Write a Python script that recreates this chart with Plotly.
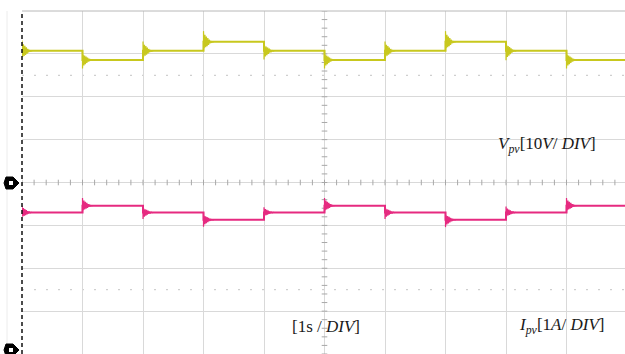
import plotly.graph_objects as go

# ---------------- data ----------------
switch_time_s = [0, 1, 2, 3, 4, 5, 6, 7, 8, 9]
v_pv_level_V = [30.7, 28.6, 30.7, 32.8, 30.7, 28.6, 30.7, 32.8, 30.7, 28.6]
i_pv_level_A = [3.21, 3.37, 3.21, 3.04, 3.21, 3.37, 3.21, 3.04, 3.21, 3.37]
v_ring_amp_V = [2.4, 2.0, 2.2, 2.5, 2.0, 2.0, 2.2, 2.5, 2.2, 2.0]
i_ring_amp_A = [0.16, 0.18, 0.15, 0.16, 0.12, 0.18, 0.15, 0.17, 0.14, 0.18]
ring_dt_s = [0.0, 0.012, 0.024, 0.036, 0.048, 0.06, 0.072, 0.084, 0.096,
             0.108, 0.12, 0.135, 0.15, 0.17]
ring_shape = [1.0, -0.6, 0.65, -0.5, 0.5, -0.4, 0.35, -0.28, 0.2,
              -0.14, 0.08, -0.04, 0.02, 0.0]
t_end_s = 10.0

V_PER_DIV, V_GND_DIV = 10.0, 0.0
A_PER_DIV, I_GND_DIV = 1.0, -3.91


def build(levels, amps, per_div, gnd):
    sx, sy, rx, ry = [], [], [], []
    prev = None
    for k, t in enumerate(switch_time_s):
        lvl = levels[k]
        sign = 1 if (prev is None or lvl >= prev) else -1
        if prev is not None:
            sx += [t, t]
            sy += [prev, lvl]
            rx.append(t)
            ry.append(prev)
        else:
            sx.append(t)
            sy.append(lvl)
        for dt, r in zip(ring_dt_s, ring_shape):
            rx.append(t + dt)
            ry.append(lvl + sign * amps[k] * r)
        rx.append(None)
        ry.append(None)
        prev = lvl
        t_next = switch_time_s[k + 1] if k + 1 < len(switch_time_s) else t_end_s
        sx.append(t_next)
        sy.append(lvl)
    f = lambda v: None if v is None else gnd + v / per_div
    return sx, [f(v) for v in sy], rx, [f(v) for v in ry]


vsx, vsy, vrx, vry = build(v_pv_level_V, v_ring_amp_V, V_PER_DIV, V_GND_DIV)
isx, isy, irx, iry = build(i_pv_level_A, i_ring_amp_A, A_PER_DIV, I_GND_DIV)

W, H = 625, 354
L, T = 22, 11
PW, PH = W - L, H - T
PX_X, PX_Y = 60.5, PH / 8.0
xmax = PW / PX_X


def dx(px):
    return (px - L) / PX_X


def dy(py):
    return 4 - (py - T) / PX_Y


def pxp(px):
    return (px - L) / PW


def pyp(py):
    return (H - py) / PH


fig = go.Figure()

# minor ticks on centre axes
tick_x = [k * 0.2 for k in range(0, 50)]
tick_y = [-4 + k * 0.2 for k in range(0, 41)]
fig.add_trace(go.Scatter(x=tick_x, y=[0] * len(tick_x), mode="markers",
                         marker=dict(symbol="line-ns", size=4, line=dict(color="#a8a8a8", width=1)),
                         hoverinfo="skip", showlegend=False))
fig.add_trace(go.Scatter(x=[5] * len(tick_y), y=tick_y, mode="markers",
                         marker=dict(symbol="line-ew", size=4, line=dict(color="#a8a8a8", width=1)),
                         hoverinfo="skip", showlegend=False))

VCOL, ICOL = "#c8c81e", "#e62a80"
fig.add_trace(go.Scatter(x=vsx, y=vsy, mode="lines", line=dict(color=VCOL, width=2),
                         hoverinfo="skip", showlegend=False))
fig.add_trace(go.Scatter(x=vrx, y=vry, mode="lines", line=dict(color=VCOL, width=1.2),
                         connectgaps=False, hoverinfo="skip", showlegend=False))
fig.add_trace(go.Scatter(x=isx, y=isy, mode="lines", line=dict(color=ICOL, width=2),
                         hoverinfo="skip", showlegend=False))
fig.add_trace(go.Scatter(x=irx, y=iry, mode="lines", line=dict(color=ICOL, width=1.2),
                         connectgaps=False, hoverinfo="skip", showlegend=False))


def ground_marker(cy):
    pts = [(6, cy - 6), (13, cy - 6), (19, cy), (13, cy + 6), (6, cy + 6), (4, cy)]
    path = "M " + " L ".join(f"{pxp(a):.5f},{pyp(b):.5f}" for a, b in pts) + " Z"
    inner = [(9, cy - 2), (13, cy - 2), (13, cy + 2), (9, cy + 2)]
    ipath = "M " + " L ".join(f"{pxp(a):.5f},{pyp(b):.5f}" for a, b in inner) + " Z"
    return [
        dict(type="path", xref="paper", yref="paper", path=path,
             fillcolor="black", line=dict(color="black", width=1)),
        dict(type="path", xref="paper", yref="paper", path=ipath,
             fillcolor="white", line=dict(color="white", width=0)),
    ]


shapes = [
    dict(type="line", xref="x", yref="y", x0=0, x1=xmax, y1=0, y0=0,
         line=dict(color="#a0a0a0", width=1), layer="below"),
    dict(type="line", xref="x", yref="y", x0=5, x1=5, y0=-4, y1=4,
         line=dict(color="#a0a0a0", width=1), layer="below"),
    dict(type="line", xref="x", yref="y", x0=0, x1=xmax, y0=2.5, y1=2.5,
         line=dict(color="#c4c4c4", width=1, dash="2px,10px"), layer="below"),
    dict(type="line", xref="x", yref="y", x0=0, x1=xmax, y0=-2.5, y1=-2.5,
         line=dict(color="#c4c4c4", width=1, dash="2px,10px"), layer="below"),
    dict(type="line", xref="paper", yref="paper", x0=0, x1=1, y0=1, y1=1,
         line=dict(color="#b8b8b8", width=1)),
    dict(type="line", xref="paper", yref="paper", x0=0, x1=0, y0=0, y1=1,
         line=dict(color="#111111", width=1.5, dash="4px,3px")),
    dict(type="line", xref="paper", yref="paper", x0=pxp(7), x1=pxp(7), y0=0, y1=1,
         line=dict(color="#ececec", width=1)),
]
shapes += ground_marker(183)
shapes += ground_marker(350)

font = dict(family="Liberation Serif", size=17, color="#1a1a1a")
annotations = [
    dict(x=dx(547), y=dy(145), xref="x", yref="y", showarrow=False, font=font,
         text="<i>V</i><sub><i>pv</i></sub>[10<i>V</i>/ <i>DIV</i>]"),
    dict(x=dx(561), y=dy(326), xref="x", yref="y", showarrow=False, font=font,
         text="<i>I</i><sub><i>pv</i></sub>[1<i>A</i>/ <i>DIV</i>]"),
    dict(x=dx(326), y=dy(326), xref="x", yref="y", showarrow=False, font=font,
         text="[1s / <i>DIV</i>]"),
]

fig.update_layout(
    width=W, height=H,
    margin=dict(l=L, r=0, t=T, b=0, autoexpand=False),
    paper_bgcolor="white", plot_bgcolor="white",
    shapes=shapes, annotations=annotations,
    hovermode=False,
    xaxis=dict(range=[0, xmax], tick0=0, dtick=1, showgrid=True, gridcolor="#d9d9d9",
               gridwidth=1, zeroline=False, showticklabels=False, ticks="", fixedrange=True),
    yaxis=dict(range=[-4, 4], tick0=0, dtick=1, showgrid=True, gridcolor="#d9d9d9",
               gridwidth=1, zeroline=False, showticklabels=False, ticks="", fixedrange=True),
)

fig.write_html("out.html", config={"displayModeBar": False})
